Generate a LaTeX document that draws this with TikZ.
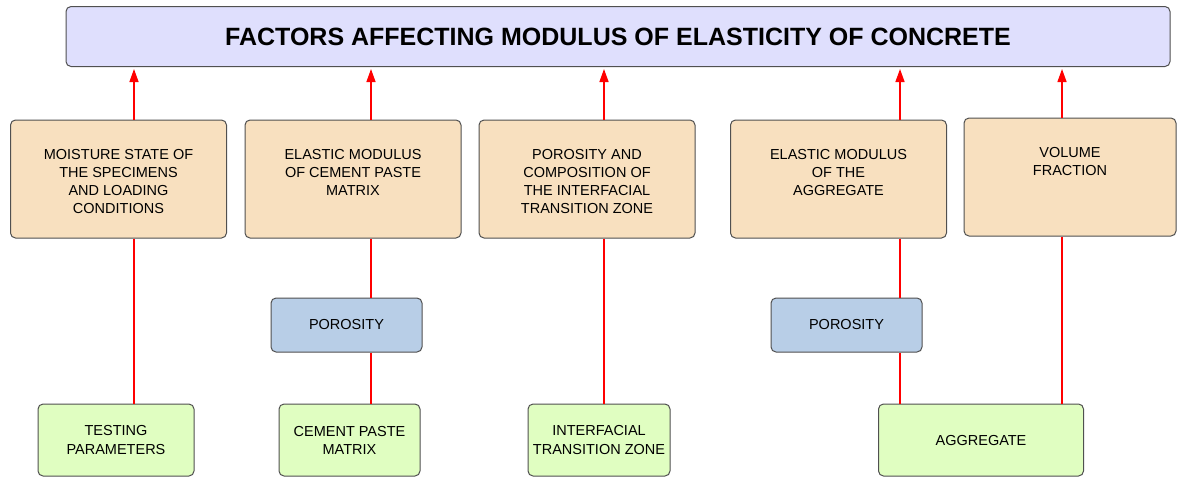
\documentclass[tikz,border=0pt]{standalone}
\usepackage{fontspec}
\setmainfont{Liberation Sans}
\usetikzlibrary{positioning,arrows.meta}
\definecolor{titlefill}{HTML}{DFDFFD}
\definecolor{factorfill}{HTML}{F8E0BF}
\definecolor{porefill}{HTML}{B8CEE7}
\definecolor{basefill}{HTML}{E0FEC1}
\definecolor{boxline}{HTML}{505050}
% lines of a factor box hang from the top
\newcommand{\factortext}[1]{\begin{tabular}[t]{@{}c@{}}#1\end{tabular}}

\begin{document}
\begin{tikzpicture}[x=1pt, y=-1pt,
  font=\fontsize{14.5}{18}\selectfont,
  box/.style={draw=boxline, line width=1pt, rounded corners=5pt, inner sep=4pt},
  factor/.style={box, fill=factorfill, minimum width=216pt, text height=35pt, text depth=75pt},
  pore/.style={box, align=center, fill=porefill, minimum width=151pt, minimum height=54pt},
  base/.style={box, align=center, fill=basefill, minimum height=72pt},
  link/.style={red, line width=1.4pt},
  arr/.style={link, -{Triangle[length=13pt, width=9pt]}, shorten >=2pt}]
\useasboundingbox (0,0) rectangle (1177,477);
% heading
\node[box, fill=titlefill, minimum width=1104pt, minimum height=60pt,
  font=\fontsize{25}{30}\selectfont\bfseries] (title) at (618,36.5)
  {FACTORS AFFECTING MODULUS OF ELASTICITY OF CONCRETE};
% factors
\node[factor] (f1) at (118.5,179) {\factortext{MOISTURE STATE OF\\THE SPECIMENS\\AND LOADING\\CONDITIONS}};
\node[factor] (f2) at (353,179) {\factortext{ELASTIC MODULUS\\OF CEMENT PASTE\\MATRIX}};
\node[factor] (f3) at (587,179) {\factortext{POROSITY AND\\COMPOSITION OF\\THE INTERFACIAL\\TRANSITION ZONE}};
\node[factor] (f4) at (838.5,179) {\factortext{ELASTIC MODULUS\\OF THE\\AGGREGATE}};
\node[factor, minimum width=212pt] (f5) at (1070,177) {\factortext{VOLUME\\FRACTION}};
% porosity
\node[pore] (p1) at (346.5,325) {POROSITY};
\node[pore] (p2) at (846.5,325) {POROSITY};
% phases
\node[base, minimum width=156pt] (t1) at (116,440) {TESTING\\PARAMETERS};
\node[base, minimum width=141pt] (t2) at (349.5,440) {CEMENT PASTE\\MATRIX};
\node[base, minimum width=142pt] (t3) at (599,440) {INTERFACIAL\\TRANSITION ZONE};
\node[base, minimum width=205pt] (t4) at (981,440) {AGGREGATE};
% line positions
\coordinate (a1) at (134,0);
\coordinate (a2) at (371,0);
\coordinate (a3) at (604,0);
\coordinate (a4) at (900,0);
\coordinate (a5) at (1062,0);
% arrows up
\foreach \i in {1,...,5}
  \draw[arr] (a\i |- f\i.north) -- (a\i |- title.south);
% links down
\draw[link] (a1 |- f1.south) -- (a1 |- t1.north);
\draw[link] (a2 |- f2.south) -- (a2 |- p1.north);
\draw[link] (a2 |- p1.south) -- (a2 |- t2.north);
\draw[link] (a3 |- f3.south) -- (a3 |- t3.north);
\draw[link] (a4 |- f4.south) -- (a4 |- p2.north);
\draw[link] (a4 |- p2.south) -- (a4 |- t4.north);
\draw[link] (a5 |- f5.south) -- (a5 |- t4.north);
\end{tikzpicture}
\end{document}
